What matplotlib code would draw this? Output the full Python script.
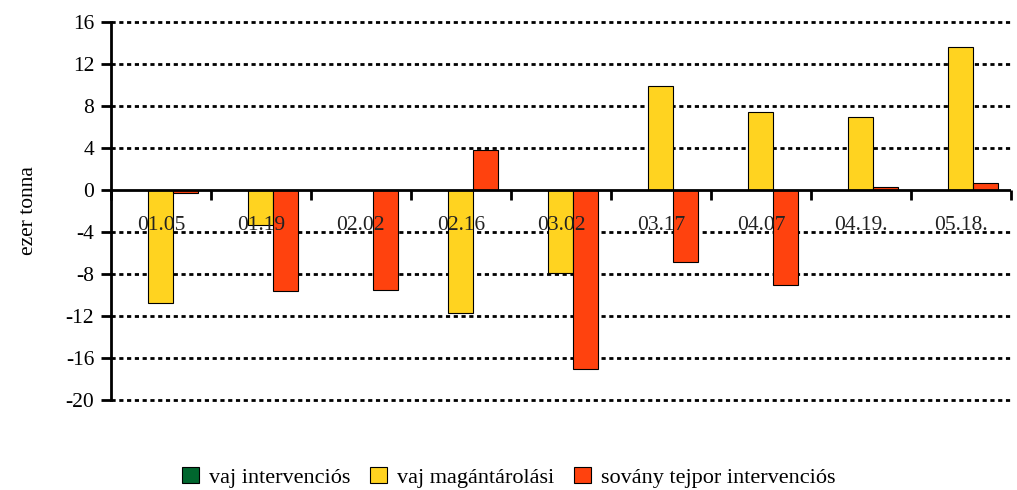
import matplotlib.pyplot as plt
import numpy as np

plt.rcParams['font.family'] = ['Liberation Serif', 'DejaVu Serif']
plt.rcParams['axes.unicode_minus'] = False

categories = ['01.05', '01.19', '02.02', '02.16', '03.02', '03.17', '04.07', '04.19.', '05.18.']
vaj_interv = [0, 0, 0, 0, 0, 0, 0, 0, 0]
vaj_magan = [-10.8, -3.3, 0, -11.7, -7.9, 9.9, 7.4, 6.95, 13.6]
sovany = [-0.3, -9.6, -9.5, 3.8, -17.1, -6.9, -9.1, 0.3, 0.65]

series = [
    ('vaj intervenciós', vaj_interv, '#00662e'),
    ('vaj magántárolási', vaj_magan, '#ffd320'),
    ('sovány tejpor intervenciós', sovany, '#ff420e'),
]

fig = plt.figure(figsize=(10.17, 4.9), dpi=100)
ax = fig.add_axes([0.109, 0.184, 0.885, 0.771])

x = np.arange(len(categories))
w = 0.25
for i, (name, vals, col) in enumerate(series):
    ax.bar(x + (i - 1) * w, vals, w, color=col, edgecolor='black', linewidth=0.8,
           label=name, zorder=3)

ax.set_xlim(-0.5, len(categories) - 0.5)
ax.set_ylim(-20, 16)
ax.set_yticks(np.arange(-20, 17, 4))
ax.tick_params(axis='y', labelsize=15.5, length=7, width=2, direction='out', pad=5)

for yv in np.arange(-20, 17, 4):
    if yv != 0:
        ax.axhline(yv, color='black', linestyle=(0, (1.5, 1.3)), linewidth=2,
                   zorder=1, clip_on=False)
ax.axhline(0, color='black', linewidth=2, zorder=4)

# category ticks sit on the zero line
ax.spines['bottom'].set_position(('data', 0))
ax.spines['bottom'].set_visible(False)
ax.spines['top'].set_visible(False)
ax.spines['right'].set_visible(False)
ax.spines['left'].set_linewidth(2)

ax.set_xticks(np.arange(len(categories) + 1) - 0.5)
ax.set_xticklabels([])
ax.tick_params(axis='x', length=7, width=2, direction='out')
ax.set_xticks(x, minor=True)
ax.set_xticklabels(categories, minor=True, fontsize=15.5, color='#222222')
ax.tick_params(axis='x', which='minor', length=0, pad=19)
ax.xaxis.set_zorder(5)

ax.set_ylabel('ezer tonna', fontsize=15.5, labelpad=20)

fig.legend(loc='lower center', bbox_to_anchor=(0.5, -0.036), ncol=3, frameon=False,
           fontsize=16, handlelength=0.75, handleheight=0.75, handletextpad=0.45,
           columnspacing=0.9)

fig.savefig('out.png', dpi=100)
